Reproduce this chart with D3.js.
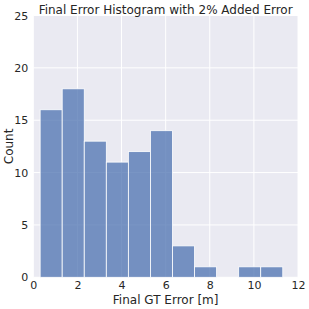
<!DOCTYPE html>
<html>
<head>
<script src="https://d3js.org/d3.v7.min.js"></script>
<style>
  body { margin: 0; background: #fff; }
  text { font-family: "DejaVu Sans", sans-serif; fill: #262626; }
</style>
</head>
<body>
<div id="chart"></div>
<script>
// histogram bins (left edge) and counts
const binStart = [0.31, 1.31, 2.31, 3.31, 4.31, 5.31, 6.31, 7.31, 8.31, 9.31, 10.31];
const binWidth = 1.0;
const counts = [16, 18, 13, 11, 12, 14, 3, 1, 0, 1, 1];
const xTicks = [0, 2, 4, 6, 8, 10, 12];
const yTicks = [0, 5, 10, 15, 20, 25];

const width = 309, height = 309;
const margin = {top: 15.5, right: 11, bottom: 31.7, left: 33.3};

const svg = d3.select("#chart").append("svg")
    .attr("width", width)
    .attr("height", height);

const x = d3.scaleLinear().domain([0, 12]).range([margin.left, width - margin.right]);
const y = d3.scaleLinear().domain([0, 25]).range([height - margin.bottom, margin.top]);

svg.append("rect")
    .attr("x", margin.left)
    .attr("y", margin.top)
    .attr("width", x(12) - x(0))
    .attr("height", y(0) - y(25))
    .attr("fill", "#eaeaf2");

// grid
svg.append("g").selectAll("line").data(xTicks).enter().append("line")
    .attr("x1", d => x(d)).attr("x2", d => x(d))
    .attr("y1", y(0)).attr("y2", y(25))
    .attr("stroke", "#fff").attr("stroke-width", 1);
svg.append("g").selectAll("line").data(yTicks).enter().append("line")
    .attr("x1", x(0)).attr("x2", x(12))
    .attr("y1", d => y(d)).attr("y2", d => y(d))
    .attr("stroke", "#fff").attr("stroke-width", 1);

// bars
svg.append("g").selectAll("rect")
    .data(counts.map((c, i) => ({start: binStart[i], count: c})).filter(d => d.count > 0))
    .enter().append("rect")
    .attr("x", d => x(d.start))
    .attr("y", d => y(d.count))
    .attr("width", d => x(d.start + binWidth) - x(d.start))
    .attr("height", d => y(0) - y(d.count))
    .attr("fill", "#4c72b0")
    .attr("fill-opacity", 0.75)
    .attr("stroke", "#fff")
    .attr("stroke-width", 0.8);

// axes
const xAxis = svg.append("g")
    .attr("transform", "translate(0," + y(0) + ")")
    .call(d3.axisBottom(x).tickValues(xTicks).tickSize(0).tickPadding(4));
xAxis.select(".domain").remove();
xAxis.selectAll("text").style("font-size", "11px").attr("font-family", null);

const yAxis = svg.append("g")
    .attr("transform", "translate(" + x(0) + ",0)")
    .call(d3.axisLeft(y).tickValues(yTicks).tickSize(0).tickPadding(5));
yAxis.select(".domain").remove();
yAxis.selectAll("text").style("font-size", "11px").attr("font-family", null);

svg.append("text")
    .attr("x", (x(0) + x(12)) / 2)
    .attr("y", 304)
    .attr("text-anchor", "middle")
    .style("font-size", "12px")
    .text("Final GT Error [m]");

svg.append("text")
    .attr("transform", "translate(12.5," + ((y(0) + y(25)) / 2) + ") rotate(-90)")
    .attr("text-anchor", "middle")
    .style("font-size", "12px")
    .text("Count");

svg.append("text")
    .attr("x", (x(0) + x(12)) / 2)
    .attr("y", 13.5)
    .attr("text-anchor", "middle")
    .style("font-size", "12px")
    .text("Final Error Histogram with 2% Added Error");
</script>
</body>
</html>
